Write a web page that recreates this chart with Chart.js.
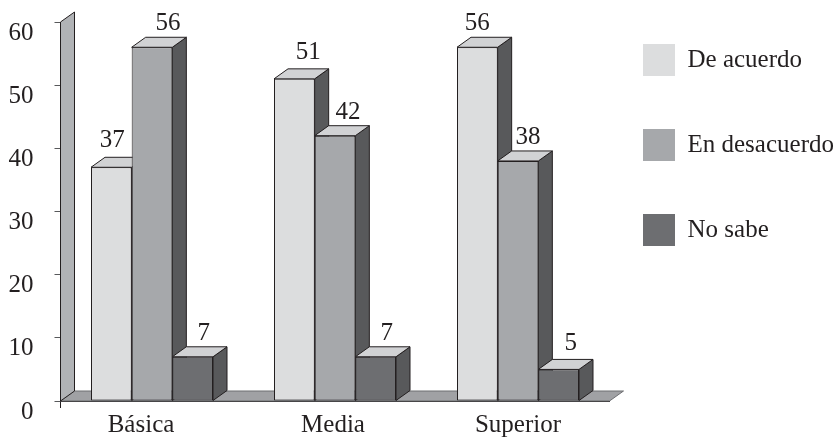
<!DOCTYPE html>
<html>
<head>
<meta charset="utf-8">
<script src="https://cdn.jsdelivr.net/npm/chart.js@4/dist/chart.umd.js"></script>
<style>
    html, body { margin: 0; padding: 0; background: #fff; }
    canvas { display: block; }
</style>
</head>
<body>
<canvas id="chart" width="837" height="442"></canvas>
<script>
const categories = ["Básica", "Media", "Superior"];
const deAcuerdo = [37, 51, 56];
const enDesacuerdo = [56, 42, 38];
const noSabe = [7, 7, 5];
const yTicks = [0, 10, 20, 30, 40, 50, 60];

const INK = "#231f20";
const TEXT = "#231f20";
const FONT = "'Liberation Serif', serif";
const DEPTH_X = 14;
const DEPTH_Y = 10;

// the labels in the picture were placed by hand, so they sit a bit off centre
const labelShift = [
    [1, 14, 0],
    [16, 13, 10],
    [11, 11, 12]
];
const labelRise = [
    [20, 20, 17],
    [17, 17, 17],
    [17, 17, 19]
];
const categoryShift = [-11, -2, 0];

function poly(ctx, points, fill, stroke) {
    ctx.beginPath();
    points.forEach((p, i) => i ? ctx.lineTo(p[0], p[1]) : ctx.moveTo(p[0], p[1]));
    ctx.closePath();
    ctx.fillStyle = fill;
    ctx.fill();
    ctx.lineWidth = 1;
    ctx.strokeStyle = stroke;
    ctx.stroke();
}

const depth3d = {
    id: "depth3d",
    afterLayout(chart) {
        // legend sits to the right of the floor, outside the chart area
        const legend = chart.legend;
        legend.left = 643 - legend.options.labels.padding;
        legend.right = 837;
        legend.top = 44 - legend.options.labels.padding;
        legend.bottom = 442;
        legend.adjustHitBoxes();
    },
    beforeDraw(chart) {
        chart.scales.x.getLabelItems().forEach((item, i) => {
            item.options.translation[0] += categoryShift[i];
        });
    },
    beforeDatasetsDraw(chart) {
        const ctx = chart.ctx;
        const a = chart.chartArea;
        const zero = chart.scales.y.getPixelForValue(0);
        const top = chart.scales.y.getPixelForValue(60);
        ctx.save();
        poly(ctx, [[a.left, zero], [a.left + DEPTH_X, zero - DEPTH_Y], [a.right + DEPTH_X, zero - DEPTH_Y], [a.right, zero]], "#a0a1a4", "#6d6e71");
        poly(ctx, [[a.left, zero], [a.left, top], [a.left + DEPTH_X, top - DEPTH_Y], [a.left + DEPTH_X, zero - DEPTH_Y]], "#b1b3b6", INK);

        // first series first, so each bar covers the side of the one to its left
        chart.data.datasets.forEach((ds, d) => {
            const meta = chart.getDatasetMeta(d);
            meta.data.forEach(bar => {
                const {x, y, base, width} = bar.getProps(["x", "y", "base", "width"], true);
                const l = x - width / 2;
                const r = x + width / 2;
                poly(ctx, [[r, y], [r + DEPTH_X, y - DEPTH_Y], [r + DEPTH_X, base - DEPTH_Y], [r, base]], "#58595b", INK);
                poly(ctx, [[l, y], [l + DEPTH_X, y - DEPTH_Y], [r + DEPTH_X, y - DEPTH_Y], [r, y]], "#d1d2d4", INK);
            });
            meta.controller.draw();
        });

        ctx.font = "25px " + FONT;
        ctx.fillStyle = TEXT;
        ctx.textAlign = "center";
        ctx.textBaseline = "alphabetic";
        chart.data.datasets.forEach((ds, d) => {
            chart.getDatasetMeta(d).data.forEach((bar, i) => {
                ctx.fillText(ds.data[i], bar.x + labelShift[d][i], bar.y - labelRise[d][i]);
            });
        });
        ctx.restore();
        return false;
    }
};

new Chart(document.getElementById("chart"), {
    type: "bar",
    data: {
        labels: categories,
        datasets: [
            {label: "De acuerdo", data: deAcuerdo, backgroundColor: "#dcddde"},
            {label: "En desacuerdo", data: enDesacuerdo, backgroundColor: "#a6a8ab"},
            {label: "No sabe", data: noSabe, backgroundColor: "#6d6e71"}
        ]
    },
    options: {
        responsive: false,
        animation: false,
        layout: {padding: {top: 22, right: 227.5, bottom: 0, left: 0}},
        datasets: {
            bar: {
                borderColor: INK,
                borderWidth: 1,
                borderSkipped: false,
                categoryPercentage: 122 / 183,
                barPercentage: 1
            }
        },
        plugins: {
            tooltip: {enabled: false},
            legend: {
                position: "chartArea",
                align: "start",
                labels: {
                    boxWidth: 32,
                    boxHeight: 32,
                    padding: 53,
                    color: TEXT,
                    font: {family: FONT, size: 25},
                    generateLabels(chart) {
                        return Chart.defaults.plugins.legend.labels.generateLabels(chart)
                            .map(item => ({...item, lineWidth: 0}));
                    }
                }
            }
        },
        scales: {
            x: {
                afterFit(scale) { scale.height = 41; },
                border: {color: INK, width: 1},
                grid: {
                    drawOnChartArea: false,
                    tickLength: 7,
                    tickColor: ctx => ctx.index === 0 ? INK : "rgba(0,0,0,0)"
                },
                ticks: {
                    color: TEXT,
                    padding: 2,
                    maxRotation: 0,
                    font: {family: FONT, size: 25}
                }
            },
            y: {
                min: 0,
                max: 60,
                afterFit(scale) {
                    scale.width = 60.5;
                    scale.paddingTop = 0;
                    scale.paddingBottom = 0;
                },
                afterBuildTicks(scale) { scale.ticks = yTicks.map(v => ({value: v})); },
                border: {color: INK, width: 1},
                grid: {drawOnChartArea: false, tickLength: 6, tickColor: "#58595b"},
                ticks: {
                    color: TEXT,
                    padding: 21,
                    labelOffset: 11,
                    font: {family: FONT, size: 25}
                }
            }
        }
    },
    plugins: [depth3d]
});
</script>
</body>
</html>
